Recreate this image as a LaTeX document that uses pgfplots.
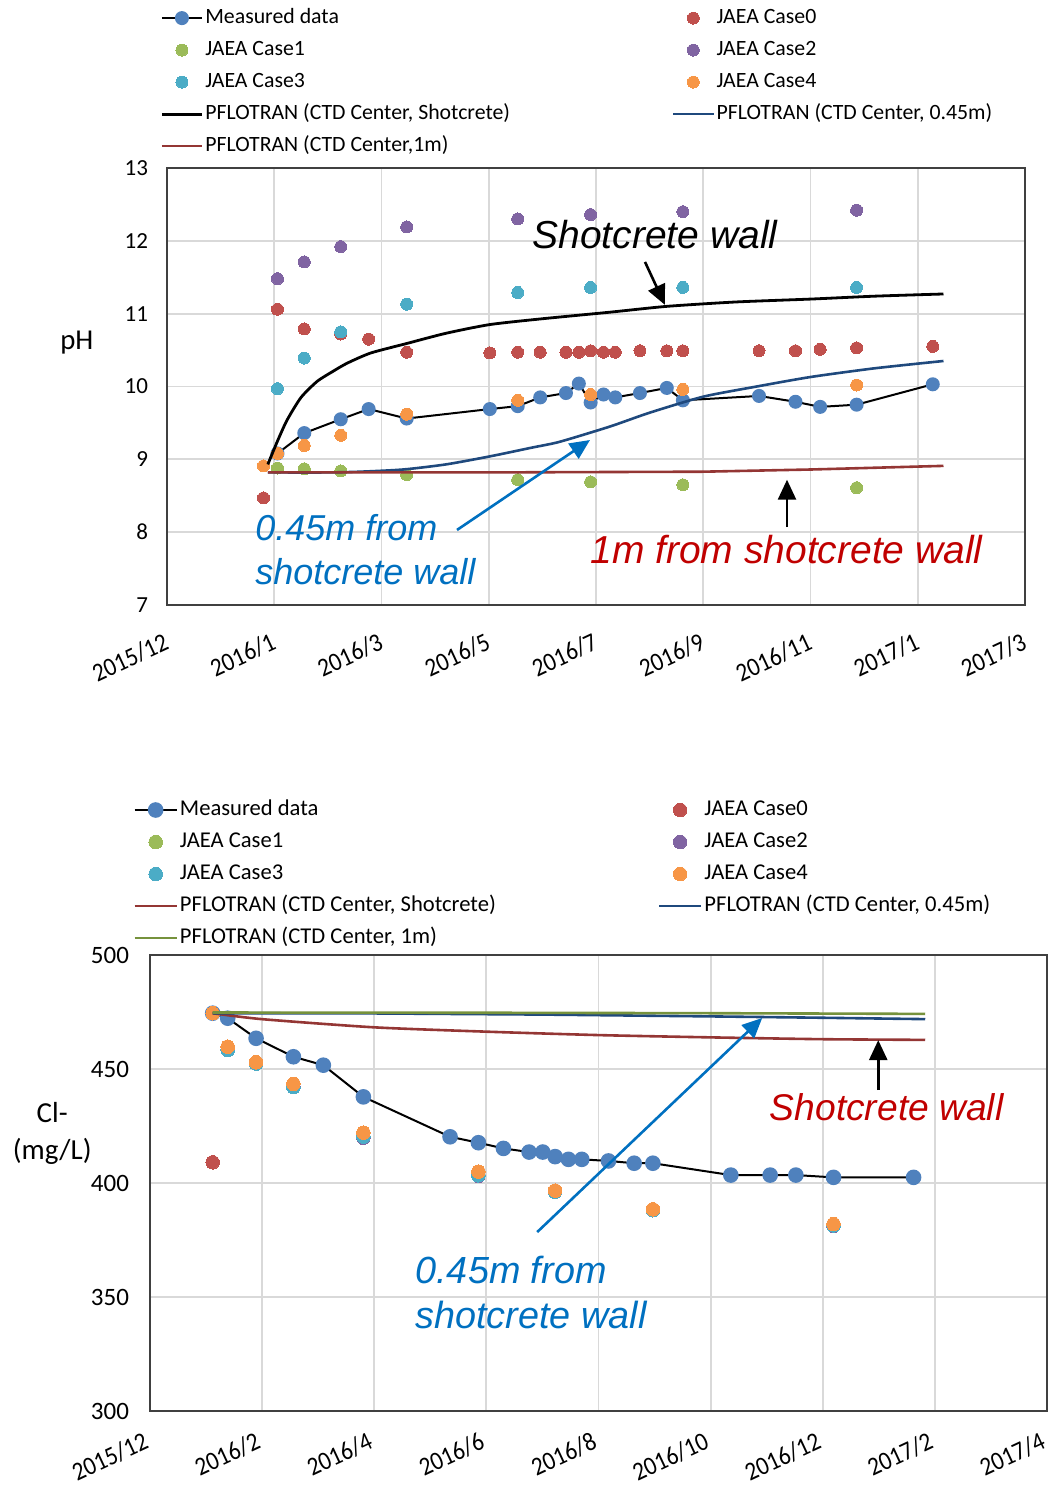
\documentclass[border=0pt]{standalone}
\usepackage{pgfplots}
\pgfplotsset{compat=1.18}
\usetikzlibrary{arrows.meta}
\usepackage{fontspec}
\setmainfont{Carlito}
\newfontfamily\annfont{Liberation Sans}
\newfontfamily\tickfont{Carlito}[FakeStretch=0.9]
\definecolor{mblue}{HTML}{4F81BD}
\definecolor{cZero}{HTML}{C0504D}
\definecolor{cOne}{HTML}{9BBB59}
\definecolor{cTwo}{HTML}{8064A2}
\definecolor{cThree}{HTML}{4BACC6}
\definecolor{cFour}{HTML}{F79646}
\definecolor{dblue}{HTML}{1F497D}
\definecolor{dred}{HTML}{943634}
\definecolor{dgreen}{HTML}{76923C}
\definecolor{annblue}{HTML}{0070C0}
\definecolor{annred}{HTML}{C00000}
\pgfplotsset{
  common/.style={
    scale only axis, anchor=south west, clip mode=individual,
    xmin=0, xmax=8, xtick={0,...,8},
    grid=major, major grid style={draw=black!15, line width=0.9pt},
    axis line style={draw=black!75, line width=1.1pt},
    tick style={draw=none},
    /pgf/number format/assume math mode=true,
    xticklabel style={rotate=25, anchor=north east, inner sep=1pt, yshift=-10pt, xshift=-6.5pt, font=\tickfont\fontsize{13}{14}\selectfont},
    legend columns=2, legend cell align=left,
  },
  dots/.style={only marks, mark=*, mark size=#1, line width=0pt},
}
\tikzset{arr/.style={line width=1.3pt, -{Triangle[width=9pt,length=10pt]}}}
\begin{document}
\begin{tikzpicture}
\path[use as bounding box] (0,0) rectangle (526pt,745.5pt);
% ---------------- top: pH ----------------
\begin{axis}[common,
  at={(83.5pt,443pt)}, width=429pt, height=218.5pt,
  ymin=7, ymax=13, ytick={7,...,13},
  xticklabels={2015/12,2016/1,2016/3,2016/5,2016/7,2016/9,2016/11,2017/1,2017/3},
  yticklabel style={xshift=-6pt, font=\fontsize{11.5}{13}\selectfont},
  legend image code/.code={\draw[mark repeat=2,mark phase=2,#1] plot coordinates {(0pt,0pt) (10pt,0pt) (20pt,0pt)};},
  legend style={at={(axis description cs:-0.008,1.369)}, anchor=north west, draw=none, fill=none,
    inner sep=0pt, font=\fontsize{10.9}{12}\selectfont, row sep=5pt,
    nodes={inner sep=1pt, text height=7pt, text depth=2pt},
    /tikz/every even column/.append style={column sep=80pt}},
]
\addplot[black, line width=1pt, mark=*, mark size=3pt, mark options={draw=mblue, fill=mblue}] coordinates {
(1.03,9.08)(1.28,9.36)(1.62,9.55)(1.88,9.69)(2.235,9.56)(3.01,9.69)(3.27,9.73)(3.48,9.85)(3.72,9.91)(3.84,10.04)(3.95,9.78)(4.07,9.89)(4.18,9.85)(4.41,9.91)(4.66,9.98)(4.81,9.81)(5.52,9.87)(5.86,9.79)(6.09,9.72)(6.43,9.75)(7.14,10.03)};
\addlegendentry{Measured data}
\addplot[dots=3pt, cZero] coordinates {
(0.90,8.47)(1.03,11.06)(1.28,10.79)(1.62,10.72)(1.88,10.65)(2.235,10.47)(3.01,10.46)(3.27,10.47)(3.48,10.47)(3.72,10.47)(3.84,10.47)(3.95,10.49)(4.07,10.47)(4.18,10.47)(4.41,10.49)(4.66,10.49)(4.81,10.49)(5.52,10.49)(5.86,10.49)(6.09,10.51)(6.43,10.53)(7.14,10.55)};
\addlegendentry{JAEA Case0}
\addplot[dots=3pt, cOne] coordinates {
(1.03,8.88)(1.28,8.87)(1.62,8.84)(2.235,8.79)(3.27,8.72)(3.95,8.69)(4.81,8.65)(6.43,8.61)};
\addlegendentry{JAEA Case1}
\addplot[dots=3pt, cTwo] coordinates {
(1.03,11.48)(1.28,11.71)(1.62,11.92)(2.235,12.19)(3.27,12.30)(3.95,12.36)(4.81,12.40)(6.43,12.42)};
\addlegendentry{JAEA Case2}
\addplot[dots=3pt, cThree] coordinates {
(1.03,9.97)(1.28,10.39)(1.62,10.75)(2.235,11.13)(3.27,11.29)(3.95,11.36)(4.81,11.36)(6.43,11.36)};
\addlegendentry{JAEA Case3}
\addplot[dots=3pt, cFour] coordinates {
(0.90,8.91)(1.03,9.08)(1.28,9.19)(1.62,9.33)(2.235,9.62)(3.27,9.81)(3.95,9.89)(4.81,9.96)(6.43,10.02)};
\addlegendentry{JAEA Case4}
\addplot[black, line width=1.4pt, smooth, tension=0.4] coordinates {
(0.94,8.93)(1.03,9.25)(1.12,9.54)(1.25,9.85)(1.40,10.07)(1.55,10.21)(1.68,10.32)(1.9,10.46)(2.235,10.59)(2.6,10.73)(3.01,10.85)(3.5,10.93)(4.13,11.02)(4.66,11.10)(5.3,11.16)(6.0,11.20)(6.6,11.24)(7.24,11.27)};
\addlegendentry{PFLOTRAN (CTD Center, Shotcrete)}
\addplot[dblue, line width=1.3pt, smooth, tension=0.4] coordinates {
(0.94,8.82)(1.5,8.82)(1.8,8.83)(2.2,8.86)(2.6,8.93)(3.01,9.04)(3.4,9.16)(3.66,9.24)(4.13,9.45)(4.5,9.64)(5.0,9.86)(5.5,10.00)(6.0,10.13)(6.6,10.25)(7.24,10.35)};
\addlegendentry{PFLOTRAN (CTD Center, 0.45m)}
\addplot[dred, line width=1.3pt] coordinates {
(0.94,8.82)(3,8.82)(5,8.83)(6,8.86)(7.24,8.91)};
\addlegendentry{PFLOTRAN (CTD Center,1m)}
\node[font=\fontsize{14.4}{16}\selectfont] at (axis description cs:-0.105,0.6) {pH};
\node[font=\annfont\itshape\fontsize{19.5}{22}\selectfont] at (axis cs:4.55,12.09) {Shotcrete wall};
\node[font=\annfont\itshape\fontsize{18}{22}\selectfont, text=annblue, align=left, anchor=west, inner sep=0pt] at (axis cs:0.82,7.755) {0.45m from\\shotcrete wall};
\node[font=\annfont\itshape\fontsize{19.5}{22}\selectfont, text=annred] at (axis cs:5.776,7.755) {1m from shotcrete wall};
\draw[arr, black] (axis cs:4.457,11.71) -- (axis cs:4.643,11.12);
\draw[arr, annblue] (axis cs:2.704,8.03) -- (axis cs:3.944,9.265);
\draw[arr, black] (axis cs:5.781,8.07) -- (axis cs:5.781,8.72);
\end{axis}
% ---------------- bottom: Cl ----------------
\begin{axis}[common,
  at={(75pt,39.85pt)}, width=448.5pt, height=228pt,
  ymin=300, ymax=500, ytick={300,350,...,500},
  xticklabels={2015/12,2016/2,2016/4,2016/6,2016/8,2016/10,2016/12,2017/2,2017/4},
  xticklabel style={yshift=4pt},
  yticklabel style={xshift=-7pt, font=\fontsize{12.5}{14}\selectfont},
  legend image code/.code={\draw[mark repeat=2,mark phase=2,#1] plot coordinates {(0pt,0pt) (10.5pt,0pt) (21pt,0pt)};},
  legend style={at={(axis description cs:-0.019,1.3436)}, anchor=north west, draw=none, fill=none,
    inner sep=0pt, font=\fontsize{11.3}{12}\selectfont, row sep=5pt,
    nodes={inner sep=1pt, text height=7pt, text depth=2pt},
    /tikz/every even column/.append style={column sep=80pt}},
]
\addplot[black, line width=1pt, mark=*, mark size=3.4pt, mark options={draw=mblue, fill=mblue}] coordinates {
(0.559,474.6)(0.693,472.4)(0.946,463.6)(1.279,455.5)(1.546,451.8)(1.903,437.9)(2.676,420.4)(2.929,417.8)(3.152,415.3)(3.381,413.7)(3.503,413.7)(3.613,411.7)(3.732,410.5)(3.851,410.5)(4.089,409.8)(4.318,408.8)(4.485,408.8)(5.18,403.6)(5.531,403.6)(5.76,403.6)(6.096,402.6)(6.81,402.6)};
\addlegendentry{Measured data}
\addplot[dots=3.4pt, cZero] coordinates {(0.559,409.2)};
\addlegendentry{JAEA Case0}
\addplot[dots=3.4pt, cOne] coordinates {
(0.693,458.5)(0.946,452.5)(1.279,442.2)(1.903,420.5)(2.929,403.5)(3.613,396.3)(4.485,388.2)(6.096,381.5)};
\addlegendentry{JAEA Case1}
\addplot[dots=3.4pt, cTwo] coordinates {
(0.693,458.5)(0.946,452.5)(1.279,442.4)(1.903,420.0)(2.929,403.3)(3.613,396.3)(4.485,388.2)(6.096,381.3)};
\addlegendentry{JAEA Case2}
\addplot[dots=3.4pt, cThree] coordinates {
(0.693,458.5)(0.946,452.5)(1.279,442.2)(1.903,420.5)(2.929,403.5)(3.613,396.3)(4.485,388.2)(6.096,381.5)};
\addlegendentry{JAEA Case3}
\addplot[dots=3.4pt, cFour] coordinates {
(0.559,474.6)(0.693,459.9)(0.946,453.1)(1.279,443.6)(1.903,422.2)(2.929,405.1)(3.613,396.8)(4.485,388.6)(6.096,382.1)};
\addlegendentry{JAEA Case4}
\addplot[dred, line width=1.3pt, smooth, tension=0.4] coordinates {
(0.559,474.6)(0.996,472.0)(2,468.4)(3,466.5)(4,465.0)(5,464.0)(6,463.2)(6.914,462.9)};
\addlegendentry{PFLOTRAN (CTD Center, Shotcrete)}
\addplot[dblue, line width=1.3pt] coordinates {
(0.559,474.6)(2,474.5)(3.5,474.0)(5,473.2)(6,472.6)(6.914,472.0)};
\addlegendentry{PFLOTRAN (CTD Center, 0.45m)}
\addplot[dgreen, line width=1.3pt] coordinates {
(0.559,474.9)(3,474.8)(5,474.6)(6.914,474.3)};
\addlegendentry{PFLOTRAN (CTD Center, 1m)}
\node[font=\fontsize{14.5}{18.5}\selectfont, align=center] at (axis description cs:-0.109,0.609) {Cl-\\(mg/L)};
\node[font=\annfont\itshape\fontsize{18.6}{22}\selectfont, text=annred] at (axis cs:6.57,433.5) {Shotcrete wall};
\node[font=\annfont\itshape\fontsize{18.9}{22.5}\selectfont, text=annblue, align=left, anchor=west, inner sep=0pt] at (axis cs:2.364,352.1) {0.45m from\\shotcrete wall};
\draw[arr, black] (axis cs:6.495,440.9) -- (axis cs:6.495,462.8);
\draw[arr, annblue] (axis cs:3.453,378.6) -- (axis cs:5.46,472.5);
\end{axis}
\end{tikzpicture}
\end{document}
